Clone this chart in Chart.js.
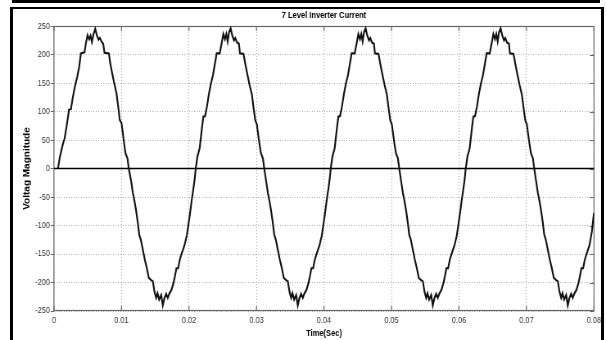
<!DOCTYPE html>
<html>
<head>
<meta charset="utf-8">
<title>7 Level Inverter Current</title>
<script src="https://cdn.jsdelivr.net/npm/chart.js@4.4.1/dist/chart.umd.min.js"></script>
<style>
  html, body { margin: 0; padding: 0; background: #fff; }
  #wrap { position: relative; width: 606px; height: 340px; overflow: hidden; }
  #upper { position: absolute; left: 12px; top: -20px; width: 584px; height: 20px;
           border: 2px solid #000; border-top: none; border-bottom-width: 3px; }
  #frame { position: absolute; left: 10px; top: 7px; width: 588px; height: 400px;
           border: 3px solid #000; border-top-width: 2px; }
  /* drawn 740 wide and squeezed into 606 px, which gives the narrow lettering */
  #plot { position: absolute; left: 0; top: 0; }
</style>
</head>
<body>
<div id="wrap">
  <div id="upper"></div>
  <div id="frame"></div>
  <canvas id="plot" width="740" height="340" style="width:606px;height:340px"></canvas>
</div>
<script>
// inverter output current, [time (s), current] per fundamental cycle
const cycle1 = [[0.00059,0],[0.00089,21],[0.00128,41],[0.00158,53],[0.00187,74],[0.00212,94],[0.00222,103],[0.00251,104],[0.00276,123],[0.00310,144],[0.00345,161],[0.00374,179],[0.00399,202],[0.00453,204],[0.00473,220],[0.00498,234],[0.00522,227],[0.00542,233],[0.00562,222],[0.00586,236],[0.00611,245],[0.00635,234],[0.00660,226],[0.00680,229],[0.00704,223],[0.00729,219],[0.00749,203],[0.00813,202],[0.00833,185],[0.00862,167],[0.00892,150],[0.00926,132],[0.00951,109],[0.00975,85],[0.01000,80],[0.01020,62],[0.01039,44],[0.01059,27],[0.01089,18],[0.01108,0],
  [0.01140,-20],[0.01169,-43],[0.01194,-58],[0.01218,-75],[0.01243,-96],[0.01263,-116],[0.01287,-125],[0.01317,-143],[0.01346,-160],[0.01376,-175],[0.01405,-192],[0.01440,-196],[0.01465,-198],[0.01489,-216],[0.01514,-227],[0.01534,-219],[0.01558,-230],[0.01588,-222],[0.01612,-240],[0.01637,-227],[0.01662,-220],[0.01686,-227],[0.01711,-219],[0.01740,-213],[0.01770,-201],[0.01790,-190],[0.01814,-175],[0.01839,-175],[0.01864,-160],[0.01893,-149],[0.01933,-135],[0.01967,-118],[0.01992,-98],[0.02016,-78],[0.02041,-55],[0.02066,-35],[0.02085,-18]];

const cycle2 = [[0.02100,0],[0.02125,21],[0.02159,36],[0.02189,68],[0.02213,91],[0.02238,92],[0.02267,109],[0.02297,132],[0.02327,150],[0.02356,164],[0.02386,185],[0.02410,202],[0.02455,202],[0.02484,220],[0.02509,236],[0.02533,227],[0.02553,236],[0.02573,223],[0.02593,239],[0.02617,246],[0.02642,233],[0.02667,225],[0.02686,229],[0.02711,221],[0.02740,219],[0.02755,202],[0.02808,201],[0.02837,182],[0.02867,164],[0.02897,147],[0.02933,129],[0.02957,106],[0.02982,85],[0.03006,77],[0.03026,59],[0.03046,42],[0.03066,27],[0.03095,18],[0.03115,0],
  [0.03140,-20],[0.03169,-43],[0.03194,-58],[0.03218,-75],[0.03243,-96],[0.03263,-116],[0.03287,-125],[0.03317,-143],[0.03346,-160],[0.03376,-175],[0.03405,-192],[0.03440,-196],[0.03465,-198],[0.03489,-216],[0.03514,-227],[0.03534,-219],[0.03558,-230],[0.03588,-222],[0.03612,-240],[0.03637,-227],[0.03662,-220],[0.03686,-227],[0.03711,-219],[0.03740,-213],[0.03770,-201],[0.03790,-190],[0.03814,-175],[0.03839,-175],[0.03864,-160],[0.03893,-149],[0.03933,-135],[0.03967,-118],[0.03992,-98],[0.04016,-78],[0.04041,-55],[0.04066,-35],[0.04085,-18]];

const cycle3 = [[0.04100,0],[0.04125,21],[0.04159,36],[0.04189,68],[0.04213,91],[0.04238,92],[0.04267,109],[0.04297,132],[0.04327,150],[0.04356,164],[0.04386,185],[0.04410,202],[0.04455,202],[0.04484,220],[0.04509,236],[0.04533,227],[0.04553,236],[0.04573,223],[0.04593,239],[0.04617,246],[0.04642,233],[0.04667,225],[0.04686,229],[0.04711,221],[0.04740,219],[0.04755,202],[0.04808,201],[0.04837,182],[0.04867,164],[0.04897,147],[0.04933,129],[0.04957,106],[0.04982,85],[0.05006,77],[0.05026,59],[0.05046,42],[0.05066,27],[0.05095,18],[0.05115,0],
  [0.05140,-20],[0.05169,-43],[0.05194,-58],[0.05218,-75],[0.05243,-96],[0.05263,-116],[0.05287,-125],[0.05317,-143],[0.05346,-160],[0.05376,-175],[0.05405,-192],[0.05440,-196],[0.05465,-198],[0.05489,-216],[0.05514,-227],[0.05534,-219],[0.05558,-230],[0.05588,-222],[0.05612,-240],[0.05637,-227],[0.05662,-220],[0.05686,-227],[0.05711,-219],[0.05740,-213],[0.05770,-201],[0.05790,-190],[0.05814,-175],[0.05839,-175],[0.05864,-160],[0.05893,-149],[0.05933,-135],[0.05967,-118],[0.05992,-98],[0.06016,-78],[0.06041,-55],[0.06066,-35],[0.06085,-18]];

const cycle4 = [[0.06100,0],[0.06125,21],[0.06159,36],[0.06189,68],[0.06213,91],[0.06238,92],[0.06267,109],[0.06297,132],[0.06327,150],[0.06356,164],[0.06386,185],[0.06410,202],[0.06455,202],[0.06484,220],[0.06509,236],[0.06533,227],[0.06553,236],[0.06573,223],[0.06593,239],[0.06617,246],[0.06642,233],[0.06667,225],[0.06686,229],[0.06711,221],[0.06740,219],[0.06755,202],[0.06808,201],[0.06837,182],[0.06867,164],[0.06897,147],[0.06933,129],[0.06957,106],[0.06982,85],[0.07006,77],[0.07026,59],[0.07046,42],[0.07066,27],[0.07095,18],[0.07115,0],
  [0.07140,-20],[0.07169,-43],[0.07194,-58],[0.07218,-75],[0.07243,-96],[0.07263,-116],[0.07287,-125],[0.07317,-143],[0.07346,-160],[0.07376,-175],[0.07405,-192],[0.07440,-196],[0.07465,-198],[0.07489,-216],[0.07514,-227],[0.07534,-219],[0.07558,-230],[0.07588,-222],[0.07612,-240],[0.07637,-227],[0.07662,-220],[0.07686,-227],[0.07711,-219],[0.07740,-213],[0.07770,-201],[0.07790,-190],[0.07814,-175],[0.07839,-175],[0.07864,-160],[0.07893,-149],[0.07933,-135],[0.07967,-112],[0.08000,-78]];

const zeroLine = [[0, 0], [0.08, 0]];

const xTickValues = [0, 0.01, 0.02, 0.03, 0.04, 0.05, 0.06, 0.07, 0.08];
const yTickValues = [-250, -200, -150, -100, -50, 0, 50, 100, 150, 200, 250];

const FONT = "'Liberation Sans', Arial, sans-serif";

const toPoints = arr => arr.map(p => ({ x: p[0], y: p[1] }));

// box around the axes plus the short inward tick marks
const axesBox = {
    id: 'axesBox',
    beforeDatasetsDraw(chart) {
        const { ctx, chartArea: a, scales: { x, y } } = chart;
        ctx.save();
        ctx.strokeStyle = '#666';
        ctx.lineWidth = 1.2;
        ctx.beginPath();
        x.ticks.forEach(t => {
            const px = x.getPixelForValue(t.value);
            ctx.moveTo(px, a.top); ctx.lineTo(px, a.top + 5);
            ctx.moveTo(px, a.bottom); ctx.lineTo(px, a.bottom - 5);
        });
        y.ticks.forEach(t => {
            const py = Math.round(y.getPixelForValue(t.value)) + 0.5;
            ctx.moveTo(a.right, py); ctx.lineTo(a.right - 5, py);
        });
        ctx.stroke();
        ctx.lineWidth = 1.2;
        ctx.strokeRect(a.left, Math.round(a.top) + 0.5, a.width, Math.round(a.height) - 1);
        ctx.restore();
    }
};

const config = {
    type: 'line',
    data: {
        datasets: [{
            data: toPoints(zeroLine),
            borderColor: '#000',
            borderWidth: 1.5,
            pointRadius: 0,
            order: 2
        }, {
            label: 'Current',
            data: toPoints([...cycle1, ...cycle2, ...cycle3, ...cycle4]),
            borderColor: '#111',
            borderWidth: 2.1,
            pointRadius: 0,
            tension: 0,
            order: 1
        }]
    },
    options: {
        responsive: false,
        animation: false,
        devicePixelRatio: 1,
        layout: { padding: { left: 12, right: 14.7, top: 8, bottom: 0 } },
        scales: {
            x: {
                type: 'linear',
                min: 0,
                max: 0.08,
                afterBuildTicks: scale => { scale.ticks = xTickValues.map(v => ({ value: v })); },
                afterFit: scale => { scale.height = 29; },
                ticks: {
                    padding: 4,
                    color: '#333',
                    font: { family: FONT, size: 9 },
                    maxRotation: 0,
                    callback: v => String(+v.toFixed(2))
                },
                grid: { color: '#aaa', lineWidth: 1, drawTicks: false },
                border: { display: false, dash: [1, 2] },
                title: {
                    display: true,
                    text: 'Time(Sec)',
                    color: '#000',
                    font: { family: FONT, size: 9.2, weight: 'bold' },
                    padding: { top: 0, bottom: 1 }
                }
            },
            y: {
                min: -250,
                max: 250,
                afterBuildTicks: scale => { scale.ticks = yTickValues.map(v => ({ value: v })); },
                afterFit: scale => { scale.width = 53.9; },
                ticks: {
                    padding: 1,
                    color: '#333',
                    font: { family: FONT, size: 9 }
                },
                grid: { color: '#aaa', lineWidth: 1, tickLength: 4, tickColor: '#666' },
                border: { display: false, dash: [1, 2] },
                title: {
                    display: true,
                    text: 'Voltag Magnitude',
                    color: '#000',
                    font: { family: FONT, size: 10, weight: 'bold' },
                    padding: { top: 15.4, bottom: 0 }
                }
            }
        },
        plugins: {
            legend: { display: false },
            tooltip: { enabled: false },
            title: {
                display: true,
                fullSize: false,
                text: '7 Level Inverter Current',
                color: '#000',
                font: { family: FONT, size: 9.2, weight: 'bold' },
                padding: { top: 1.5, bottom: 5.5 }
            }
        }
    },
    plugins: [axesBox]
};

new Chart(document.getElementById('plot').getContext('2d'), config);
</script>
</body>
</html>
